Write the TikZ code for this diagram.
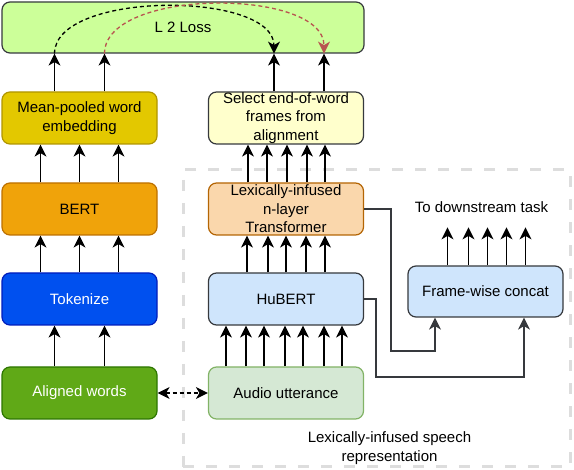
\documentclass[tikz,border=0pt]{standalone}
\usepackage{fontspec}
\setmainfont{Liberation Sans}
\usetikzlibrary{arrows.meta}
\definecolor{lossfill}{HTML}{CCFF99}
\definecolor{darkline}{HTML}{36393D}
\definecolor{meanfill}{HTML}{E3C800}
\definecolor{meanline}{HTML}{B09500}
\definecolor{selfill}{HTML}{FFFFCC}
\definecolor{bertfill}{HTML}{F0A30A}
\definecolor{bertline}{HTML}{BD7000}
\definecolor{lexfill}{HTML}{FAD7AC}
\definecolor{lexline}{HTML}{B46504}
\definecolor{tokfill}{HTML}{0050EF}
\definecolor{tokline}{HTML}{001DBC}
\definecolor{hubfill}{HTML}{CFE5FC}
\definecolor{alfill}{HTML}{60A917}
\definecolor{alline}{HTML}{2D7600}
\definecolor{audfill}{HTML}{D5E8D4}
\definecolor{audline}{HTML}{82B366}
\definecolor{regline}{HTML}{DDDDDD}
\definecolor{redarr}{HTML}{B85450}
\begin{document}
\begin{tikzpicture}[x=1pt,y=-1pt,
  box/.style={draw, rounded corners=8pt, line width=1.2pt, minimum width=155pt,
    minimum height=52pt, inner sep=0pt, align=center,
    font=\fontsize{15}{18.5}\selectfont},
  lbl/.style={inner sep=0pt, align=center, font=\fontsize{15}{19}\selectfont},
  arr/.style={-{Stealth[length=12pt,width=12pt,inset=3.5pt]}, line width=1.3pt, black},
  connarr/.style={-{Stealth[length=12pt,width=12pt,inset=3.5pt]}, line width=1.5pt, darkline},
  curvearr/.style={-{Stealth[length=12pt,width=12pt,inset=3.5pt]}, line width=1.3pt, dash pattern=on 4pt off 3pt},
  dblarr/.style={{Stealth[length=12pt,width=12pt,inset=3.5pt]}-{Stealth[length=12pt,width=12pt,inset=3.5pt]}, line width=1.3pt, dash pattern=on 4pt off 3pt},
  regionbox/.style={draw=regline, line width=3pt, dash pattern=on 11pt off 12pt, inner sep=0pt}
]
\useasboundingbox (0,0) rectangle (574,470);

\node[regionbox, minimum width=387pt, minimum height=297pt] (region) at (376.5,318.5) {};

\node[box, fill=lossfill, draw=darkline, minimum width=362pt, minimum height=51pt] (loss) at (183,27.5) {L 2 Loss};
\node[box, fill=meanfill, draw=meanline] (mean) at (79.5,118) {Mean-pooled word\\embedding};
\node[box, fill=selfill, draw=darkline] (sel) at (286,118) {Select end-of-word\\frames from\\alignment};
\node[box, fill=bertfill, draw=bertline] (bert) at (79.5,209) {BERT};
\node[box, fill=lexfill, draw=lexline] (lex) at (286,209) {Lexically-infused\\n-layer\\Transformer};
\node[box, fill=tokfill, draw=tokline, text=white] (tok) at (79.5,299) {Tokenize};
\node[box, fill=hubfill, draw=darkline] (hubert) at (286,299) {HuBERT};
\node[box, fill=alfill, draw=alline, text=white] (aligned) at (79.5,393) {Aligned words};
\node[box, fill=audfill, draw=audline] (audio) at (286,393) {Audio utterance};
\node[box, fill=hubfill, draw=darkline, minimum height=51pt] (concat) at (485.5,291.5) {Frame-wise concat};

\node[lbl] (ds) at (481.5,207) {To downstream task};
\node[lbl] (rl) at (389.5,448.5) {Lexically-infused speech\\representation};

% left column
\foreach \dx in {-25,25} \draw[arr] ([xshift=\dx pt]aligned.north) -- ([xshift=\dx pt]tok.south);
\foreach \dx in {-39,0,39} \draw[arr] ([xshift=\dx pt]tok.north) -- ([xshift=\dx pt]bert.south);
\foreach \dx in {-39,0,39} \draw[arr] ([xshift=\dx pt]bert.north) -- ([xshift=\dx pt]mean.south);

% right column
\foreach \dx in {-60,-40,-22,-1,17,38,56} \draw[arr] ([xshift=\dx pt]audio.north) -- ([xshift=\dx pt]hubert.south);
\foreach \dx in {-39,-18,0,20,39} \draw[arr] ([xshift=\dx pt]hubert.north) -- ([xshift=\dx pt]lex.south);
\foreach \dx in {-38,-19,1,21,39} \draw[arr] ([xshift=\dx pt]lex.north) -- ([xshift=\dx pt]sel.south);

% into the loss
\coordinate (m1) at ([xshift=-25pt]mean.north);
\coordinate (m2) at ([xshift=25pt]mean.north);
\coordinate (s1) at ([xshift=-12pt]sel.north);
\coordinate (s2) at ([xshift=38pt]sel.north);
\coordinate (c1) at (m1 |- loss.south);
\coordinate (c2) at (m2 |- loss.south);
\coordinate (c3) at (s1 |- loss.south);
\coordinate (c4) at (s2 |- loss.south);
\draw[arr] (m1) -- (c1);
\draw[arr] (m2) -- (c2);
\draw[arr] (s1) -- (c3);
\draw[arr] (s2) -- (c4);

\draw[curvearr, black] (c1) .. controls ([yshift=63pt]c1) and ([yshift=63pt]c3) .. (c3);
\draw[curvearr, redarr] (c2) .. controls ([yshift=66pt]c2) and ([yshift=66pt]c4) .. (c4);

% to the concat
\draw[connarr] (lex.east) -| (391,351) -| ([xshift=-50.5pt]concat.south);
\draw[connarr] (hubert.east) -| (376,377) -| ([xshift=38.5pt]concat.south);
\foreach \dx in {-38,-17,2,21,40} \draw[arr] ([xshift=\dx pt]concat.north) -- ++(0,-38);

% aligned <-> audio
\draw[dblarr] (aligned.east) -- (audio.west);
\end{tikzpicture}
\end{document}
